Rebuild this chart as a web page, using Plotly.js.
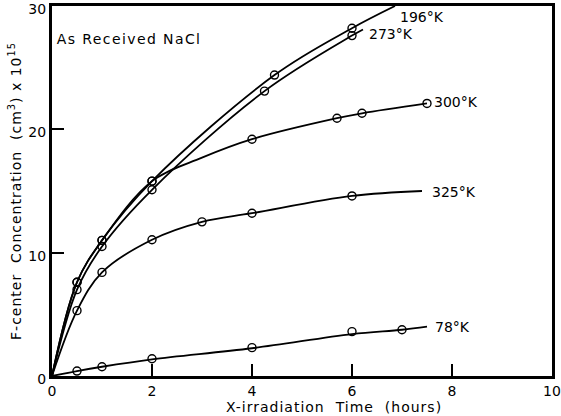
<!DOCTYPE html>
<html>
<head>
<meta charset="utf-8">
<script src="https://cdn.plot.ly/plotly-3.0.1.min.js"></script>
<style>html,body{margin:0;padding:0;background:#fff;}#chart{width:561px;height:416px;}</style>
</head>
<body>
<div id="chart"></div>
<script>
// Measured points (hours, F-centers x 1e15 per cm^3)
const t196 = [0.5, 1, 2, 4.45, 6];
const c196 = [7.6, 11.0, 15.8, 24.4, 28.2];
const t273 = [0.5, 1, 2, 4.25, 6];
const c273 = [7.0, 10.5, 15.1, 23.1, 27.6];
const t300 = [0.5, 1, 2, 4, 5.7, 6.2, 7.5];
const c300 = [7.6, 11.0, 15.8, 19.2, 20.9, 21.3, 22.1];
const t325 = [0.5, 1, 2, 3, 4, 6];
const c325 = [5.3, 8.4, 11.05, 12.5, 13.2, 14.6];
const t78 = [0.5, 1, 2, 4, 6, 7];
const c78 = [0.4, 0.75, 1.4, 2.3, 3.6, 3.75];

// Drawn curves (start at origin, extend to label)
const l196x = [0, 0.5, 1, 2, 4.45, 6, 6.86];
const l196y = [0, 7.6, 11.0, 15.8, 24.4, 28.2, 30];
const l273x = [0, 0.5, 1, 2, 4.25, 6, 6.22];
const l273y = [0, 7.0, 10.5, 15.1, 23.1, 27.6, 28.1];
const l300x = [0, 0.5, 1, 2, 3, 4, 5.7, 6.2, 7.5];
const l300y = [0, 7.6, 11.0, 15.8, 17.7, 19.2, 20.9, 21.3, 22.1];
const l325x = [0, 0.5, 1, 2, 3, 4, 6, 7.4];
const l325y = [0, 5.3, 8.4, 11.05, 12.5, 13.2, 14.6, 15.0];
const l78x = [0, 0.5, 1, 2, 4, 6, 7, 7.5];
const l78y = [0, 0.4, 0.75, 1.35, 2.25, 3.4, 3.75, 4.0];

const xTicks = [0, 2, 4, 6, 8, 10];
const xTickText = ['0', '2', '4', '6', '8', '10'];
const yTicks = [0, 10, 20, 30];
const yTickText = ['0', '10', '20', '30'];

const curveLabels = ['196°K', '273°K', '300°K', '325°K', '78°K'];

const lines = [[l196x,l196y],[l273x,l273y],[l300x,l300y],[l325x,l325y],[l78x,l78y]];
const pts = [[t196,c196],[t273,c273],[t300,c300],[t325,c325],[t78,c78]];

const traces = [];
lines.forEach(([x,y], i) => {
  traces.push({x:x, y:y, type:'scatter', mode:'lines', name:curveLabels[i],
    line:{color:'#000', width:1.8, shape:'spline', smoothing:1}, hoverinfo:'skip'});
});
pts.forEach(([x,y], i) => {
  traces.push({x:x, y:y, type:'scatter', mode:'markers', name:curveLabels[i]+' data',
    marker:{symbol:'circle-open', size:8, color:'#000', line:{width:1.4, color:'#000'}}});
});

const fam = 'DejaVu Sans, Verdana, sans-serif';
const font = {family:fam, color:'#000', size:14};
const tickFont = {family:fam, color:'#000', size:14};
const labelPos = [[6.92, 29.1], [6.3, 27.7], [7.6, 22.2], [7.56, 14.9], [7.62, 4.0]];
const annotations = curveLabels.map((t, i) => ({
  x: labelPos[i][0], y: labelPos[i][1], text: t, showarrow:false,
  xanchor:'left', yanchor:'middle', font:font
}));
annotations.push({xref:'paper', yref:'paper', x:0.028, y:0.91, xanchor:'left', yanchor:'middle',
  text:'As Received NaCl', showarrow:false, font:font, name:'sample'});

const layout = {
  width:561, height:416,
  margin:{l:52, r:9, t:6, b:40},
  paper_bgcolor:'#fff', plot_bgcolor:'#fff',
  showlegend:false,
  font:font,
  xaxis:{range:[0,10], tickvals:xTicks, ticktext:xTickText, ticks:'inside', ticklen:12, tickwidth:2,
    tickcolor:'#000', showline:true, linewidth:3, linecolor:'#000', mirror:true, showgrid:false,
    zeroline:false, tickfont:tickFont, ticklabeloverflow:'allow', automargin:false,
    title:{text:'X-irradiation  Time  (hours)', font:font, standoff:5}},
  yaxis:{range:[0,30], tickvals:yTicks, ticktext:yTickText, ticks:'inside', ticklen:12, tickwidth:2,
    tickcolor:'#000', showline:true, linewidth:3, linecolor:'#000', mirror:true, showgrid:false,
    zeroline:false, tickfont:tickFont, ticklabelshift:3, ticklabeloverflow:'allow', automargin:false,
    title:{text:'F-center  Concentration  (cm<sup>3</sup>) x 10<sup>15</sup>', font:font, standoff:4}},
  annotations:annotations
};

Plotly.newPlot('chart', traces, layout, {displayModeBar:false, staticPlot:true}).then(() => {
  const ann = document.querySelectorAll('.annotation-text');
  if (ann.length) ann[ann.length - 1].style.letterSpacing = '1.4px';
  document.querySelectorAll('.g-xtitle text, .g-ytitle text').forEach(e => { e.style.letterSpacing = '1px'; });
  const xt = document.querySelector('.g-xtitle');
  if (xt) xt.setAttribute('transform', 'translate(32,0)');
});
</script>
</body>
</html>
